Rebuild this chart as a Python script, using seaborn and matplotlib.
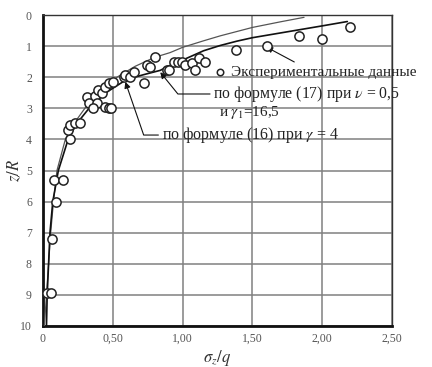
import numpy as np
import pandas as pd
import matplotlib.pyplot as plt
import seaborn as sns
from matplotlib.ticker import MultipleLocator

# experimental points (sigma_z/q, z/R)
exp_x = [0.03, 0.06, 0.065, 0.09, 0.08, 0.14, 0.19, 0.18, 0.194, 0.23, 0.266,
         0.314, 0.326, 0.37, 0.386, 0.36, 0.397, 0.42, 0.445, 0.47, 0.49,
         0.445, 0.47, 0.505, 0.577, 0.59, 0.625, 0.649, 0.72, 0.745, 0.77,
         0.805, 0.89, 0.90, 0.936, 0.97, 0.996, 1.02, 1.07, 1.09, 1.116,
         1.164, 1.38, 1.607, 1.834, 1.995, 2.20]
exp_z = [8.95, 8.95, 7.2, 6.0, 5.3, 5.3, 4.0, 3.7, 3.54, 3.48, 3.48,
         2.63, 2.84, 2.6, 2.84, 3.0, 2.41, 2.52, 2.95, 3.0, 3.0,
         2.3, 2.2, 2.14, 1.98, 1.93, 1.98, 1.82, 2.2, 1.61, 1.66,
         1.34, 1.77, 1.77, 1.5, 1.5, 1.5, 1.61, 1.55, 1.77, 1.39,
         1.5, 1.13, 1.0, 0.675, 0.78, 0.375]

# formula (16), gamma = 4
f16_x = [0.01, 0.025, 0.04, 0.055, 0.075, 0.10, 0.16, 0.22, 0.30, 0.40, 0.53,
         0.66, 0.80, 0.91, 1.00, 1.15, 1.27, 1.50, 1.70, 1.87]
f16_z = [10, 9, 8, 7, 6, 5, 4, 3.5, 3.0, 2.5, 2.0,
         1.65, 1.36, 1.21, 1.04, 0.83, 0.67, 0.40, 0.22, 0.075]

# formula (17), nu = 0.5, gamma1 = 16.5
f17_x = [0.025, 0.03, 0.04, 0.05, 0.07, 0.11, 0.18, 0.24, 0.33, 0.45, 0.60,
         0.72, 0.84, 0.91, 1.00, 1.15, 1.27, 1.39, 1.50, 1.75, 2.00, 2.18]
f17_z = [10, 9, 8, 7, 6, 5, 4, 3.5, 3.0, 2.5, 2.07,
         1.92, 1.78, 1.62, 1.45, 1.15, 0.98, 0.84, 0.73, 0.54, 0.35, 0.21]

x_ticks = [0, 0.5, 1.0, 1.5, 2.0, 2.5]
x_tick_labels = ['0', '0,50', '1,00', '1,50', '2,00', '2,50']
y_ticks = list(range(11))

sns.set_style('white')
plt.rcParams['font.family'] = ['Liberation Serif', 'DejaVu Serif']
plt.rcParams['mathtext.fontset'] = 'stix'

fig = plt.figure(figsize=(4.32, 3.67), dpi=100)
ax = fig.add_axes([43 / 432, 1 - 326 / 367, 349 / 432, 311 / 367])

exp_df = pd.DataFrame({'s': exp_x, 'z': exp_z})
sns.lineplot(x=f16_x, y=f16_z, sort=False, estimator=None, color='#555555',
             lw=0.9, ax=ax, zorder=3)
sns.lineplot(x=f17_x, y=f17_z, sort=False, estimator=None, color='#111111',
             lw=1.2, ax=ax, zorder=3)
sns.scatterplot(data=exp_df, x='s', y='z', marker='o', s=44, facecolor='white',
                edgecolor='#222222', linewidth=1.1, ax=ax, zorder=4,
                label='Экспериментальные данные')

ax.set_xlim(0, 2.5)
ax.set_ylim(10, 0)
ax.set_xticks(x_ticks)
ax.set_xticklabels(x_tick_labels)
ax.set_yticks(y_ticks)
ax.xaxis.set_minor_locator(MultipleLocator(0.1))
ax.yaxis.set_minor_locator(MultipleLocator(0.2))
ax.tick_params(which='both', direction='in', colors='#111111', labelcolor='#555555',
               labelsize=8.5)
ax.tick_params(which='major', length=4, width=1)
ax.tick_params(which='minor', length=2.5, width=1)
ax.tick_params(axis='x', pad=5)
ax.tick_params(axis='y', pad=8)
ax.grid(True, which='major', color='#808080', lw=1.1)
for side in ['left', 'bottom']:
    ax.spines[side].set_linewidth(2)
    ax.spines[side].set_color('#111111')
for side in ['top', 'right']:
    ax.spines[side].set_linewidth(1)
    ax.spines[side].set_color('#333333')

ax.set_xlabel(r'$\sigma_z/q$', fontsize=12, color='#333333', labelpad=2)
ax.set_ylabel(r'$z/R$', fontsize=12, color='#333333')
ax.yaxis.set_label_coords(-0.055, 0.5)

leg = ax.legend(loc='center left', bbox_to_anchor=(208 / 432, 1 - 72 / 367),
                bbox_transform=fig.transFigure, frameon=False, fontsize=11,
                handlelength=0.6, handletextpad=0.4, borderpad=0, markerscale=0.7)
for t in leg.get_texts():
    t.set_color('#222222')

arrow = dict(arrowstyle='-|>', color='#111111', lw=0.8, mutation_scale=9,
             shrinkA=0, shrinkB=0)
ax.annotate('', xy=(1.60, 1.03), xytext=(1.80, 1.51),
            arrowprops=arrow)
ax.annotate('по формуле (17) при $\\nu$ = 0,5', xy=(0.84, 1.84), xytext=(1.22, 2.54),
            ha='left', va='center', fontsize=11.3, color='#222222',
            arrowprops=dict(arrow, connectionstyle='angle,angleA=0,angleB=-51,rad=0'))
ax.text(1.26, 3.13, 'и $\\gamma_1$=16,5', ha='left', va='center', fontsize=11,
        color='#222222')
ax.annotate('по формуле (16) при $\\gamma$ = 4', xy=(0.59, 2.15), xytext=(0.85, 3.86),
            ha='left', va='center', fontsize=11.5, color='#222222',
            arrowprops=dict(arrow, connectionstyle='angle,angleA=0,angleB=-71,rad=0'))

fig.savefig('out.png', dpi=100)
